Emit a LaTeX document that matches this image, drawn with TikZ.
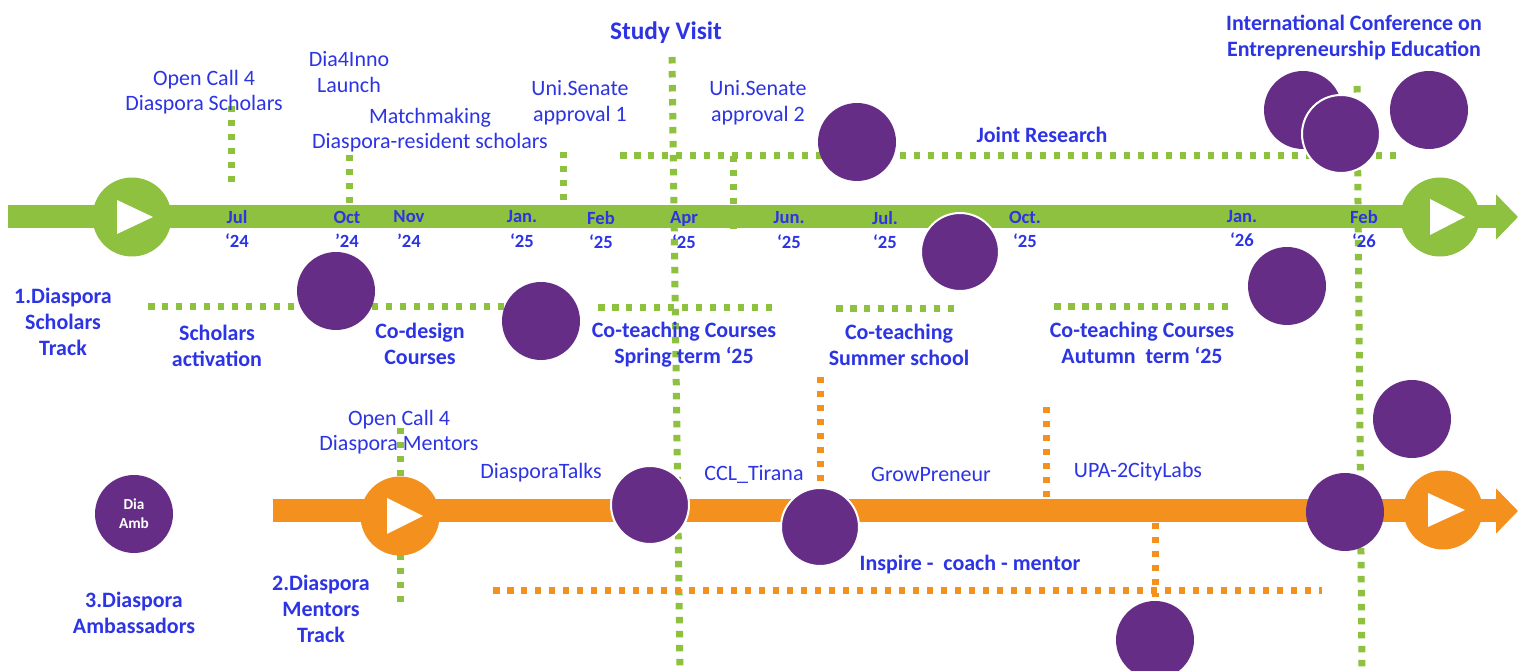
\documentclass[tikz,border=0pt]{standalone}
\usepackage{fontspec}
\setmainfont{Carlito}
\usetikzlibrary{arrows.meta, positioning}
\definecolor{bandgreen}{RGB}{141,193,63}
\definecolor{bandorange}{RGB}{244,145,30}
\definecolor{dpurple}{RGB}{102,45,134}
\definecolor{tblue}{RGB}{45,52,228}

\begin{document}
\begin{tikzpicture}[
    x=0.02cm, y=-0.02cm,
    band/.style={line width=0.46cm, -{Triangle[width=0.88cm,length=0.44cm]}},
    gdots/.style={draw=bandgreen, line width=0.14cm, dash pattern=on 0.13cm off 0.15cm},
    odots/.style={draw=bandorange, line width=0.14cm, dash pattern=on 0.13cm off 0.15cm},
    bubble/.style={circle, fill=dpurple, minimum size=1.56cm, inner sep=0pt},
    rimbubble/.style={bubble, draw=white, line width=0.04cm},
    play/.style={circle, minimum size=1.58cm, inner sep=0pt},
    lbl/.style={text=tblue, align=center, inner sep=0pt, font=\fontsize{12.5}{14.6}\selectfont},
    hdr/.style={lbl, font=\bfseries\fontsize{12.5}{14.8}\selectfont},
    month/.style={text=tblue, align=center, inner sep=0pt, font=\bfseries\fontsize{10.6}{13.7}\selectfont}
]
\fill[white] (0,0) rectangle (1526,671);
\useasboundingbox (0,0) rectangle (1526,671);

% the two tracks
\coordinate (gstart) at (8,217);
\coordinate (gend)   at (1518,217);
\coordinate (ostart) at (273,511);
\coordinate (oend)   at (1518,511);
\draw[band, bandgreen]  (gstart) -- (gend);
\draw[band, bandorange] (ostart) -- (oend);

% green milestone lines
\coordinate (jul24a) at (231,106);   \coordinate (jul24b) at (231,182);
\coordinate (oct24a) at (349,155);   \coordinate (oct24b) at (349,203);
\coordinate (jan25a) at (563,152);   \coordinate (jan25b) at (563,201);
\coordinate (visita) at (672,57);    \coordinate (visitb) at (680,671);
\coordinate (jointa) at (620,156);   \coordinate (jointb) at (1400,156);
\coordinate (sen2a)  at (733,156);   \coordinate (sen2b)  at (733,229);
\coordinate (feb26a) at (1357,86);   \coordinate (feb26b) at (1362,671);
\coordinate (activa) at (148,307);   \coordinate (activb) at (505,307);
\coordinate (springa) at (598,308);  \coordinate (springb) at (776,308);
\coordinate (summera) at (836,309);  \coordinate (summerb) at (956,309);
\coordinate (autumna) at (1054,307); \coordinate (autumnb) at (1231,307);
\coordinate (mentora) at (400,428);  \coordinate (mentorb) at (400,608);
\draw[gdots] (jul24a) -- (jul24b);
\draw[gdots] (oct24a) -- (oct24b);
\draw[gdots] (jan25a) -- (jan25b);
\draw[gdots] (visita) -- (visitb);
\draw[gdots] (jointa) -- (jointb);
\draw[gdots] (sen2a) -- (sen2b);
\draw[gdots] (feb26a) -- (feb26b);
\draw[gdots] (activa) -- (activb);
\draw[gdots] (springa) -- (springb);
\draw[gdots] (summera) -- (summerb);
\draw[gdots] (autumna) -- (autumnb);
\draw[gdots] (mentora) -- (mentorb);

% orange milestone lines
\coordinate (ccla) at (820,377);    \coordinate (cclb) at (820,490);
\coordinate (upaa) at (1046,407);   \coordinate (upab) at (1046,498);
\coordinate (lowa) at (1155,523);   \coordinate (lowb) at (1155,597);
\coordinate (inspa) at (493,591);   \coordinate (inspb) at (1322,591);
\draw[odots] (ccla) -- (cclb);
\draw[odots] (upaa) -- (upab);
\draw[odots] (lowa) -- (lowb);
\draw[odots] (inspa) -- (inspb);

% play buttons
\node[play, fill=bandgreen]  (gplay1) at (132,217) {};
\node[play, fill=bandgreen]  (gplay2) at (1440,217) {};
\node[play, fill=bandorange] (oplay1) at (400,516) {};
\node[play, fill=bandorange] (oplay2) at (1443,510) {};
\fill[white] (gplay1) ++(-15,-17) -- ++(36,17) -- ++(-36,17) -- cycle;
\fill[white] (gplay2) ++(-10,-18) -- ++(35,18) -- ++(-35,18) -- cycle;
\fill[white] (oplay1) ++(-13,-18) -- ++(36,18) -- ++(-36,18) -- cycle;
\fill[white] (oplay2) ++(-15,-17) -- ++(37,17) -- ++(-37,17) -- cycle;

% bubbles
\node[bubble]    (julbub)  at (857,142) {};
\node[rimbubble] (augbub)  at (960,252) {};
\node[bubble]    (confA)   at (1303,110) {};
\node[rimbubble] (confB)   at (1341,134) {};
\node[bubble]    (confC)   at (1429,110) {};
\node[bubble]    (janbub)  at (1287,286) {};
\node[bubble]    (febbub)  at (1412,419) {};
\node[bubble]    (endbub)  at (1345,512) {};
\node[bubble]    (lowbub)  at (1155,640) {};
\node[bubble]    (actbub)  at (336,291) {};
\node[bubble]    (desbub)  at (541,321) {};
\node[rimbubble] (talkbub) at (650,505) {};
\node[rimbubble] (cclbub)  at (820,527) {};
\node[bubble, text=white, align=center, font=\bfseries\fontsize{8.7}{10.8}\selectfont] (ambbub) at (134,514) {Dia\\Amb};

% months
\node[month] (mjul24) at (237,229) {Jul\\‘24};
\node[month] (moct24) at (347,229) {Oct\\’24};
\node[month] (mnov24) at (409,229) {Nov\\’24};
\node[month] (mjan25) at (522,229) {Jan.\\‘25};
\node[month] (mfeb25) at (601,230) {Feb\\‘25};
\node[month] (mapr25) at (684,230) {Apr\\‘25};
\node[month] (mjun25) at (789,230) {Jun.\\‘25};
\node[month] (mjul25) at (885,230) {Jul.\\‘25};
\node[month] (moct25) at (1025,229) {Oct.\\‘25};
\node[month] (mjan26) at (1242,229) {Jan.\\‘26};
\node[month] (mfeb26) at (1364,229) {Feb\\‘26};

% labels above the scholars track
\node[lbl] (call1) at (204,92)  {Open Call 4\\Diaspora Scholars};
\node[lbl] (inno)  at (349,72)  {Dia4Inno\\Launch};
\node[lbl] (match) at (430,130) {Matchmaking\\Diaspora-resident scholars};
\node[lbl] (sen1)  at (580,103) {Uni.Senate\\approval 1};
\node[lbl] (sen2)  at (758,103) {Uni.Senate\\approval 2};
\node[hdr, font=\bfseries\fontsize{14.4}{17}\selectfont] (visit) at (666,33) {Study Visit};
\node[hdr] (joint) at (1042,135) {Joint Research};
\node[hdr] (conf)  at (1354,38)  {International Conference on\\Entrepreneurship Education};

% labels below the scholars track
\node[hdr] (track1) at (63,322)   {1.Diaspora\\Scholars\\Track};
\node[hdr] (activ)  at (217,346)  {Scholars\\activation};
\node[hdr] (codes)  at (420,344)  {Co-design\\Courses};
\node[hdr] (spring) at (684,345)  {Co-teaching Courses\\Spring term ‘25};
\node[hdr] (summer) at (899,345)  {Co-teaching\\Summer school};
\node[hdr] (autumn) at (1142,343) {Co-teaching Courses\\Autumn\ \ term ‘25};

% mentors and ambassadors
\node[lbl] (call2) at (399,432)  {Open Call 4\\Diaspora Mentors};
\node[lbl] (talks) at (541,473)  {DiasporaTalks};
\node[lbl] (ccl)   at (754,474)  {CCL\_Tirana};
\node[lbl] (grow)  at (931,474)  {GrowPreneur};
\node[lbl] (upa)   at (1138,472) {UPA-2CityLabs};
\node[hdr] (insp)  at (970,565)  {Inspire -\ \ coach - mentor};
\node[hdr] (track2) at (321,609) {2.Diaspora\\Mentors\\Track};
\node[hdr, below=0.76cm of ambbub] (track3) {3.Diaspora\\Ambassadors};
\end{tikzpicture}
\end{document}
